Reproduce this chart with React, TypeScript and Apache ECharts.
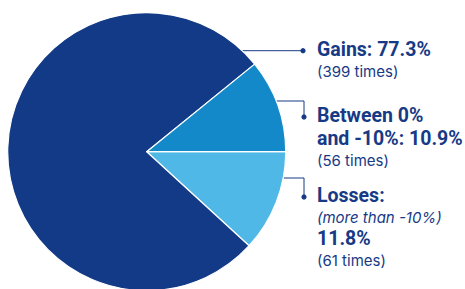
import React, { useEffect, useRef } from "react";
import * as echarts from "echarts";

const categories = ["Losses", "Gains", "Between 0% and -10%"];
const counts = [61, 399, 56];
const percents = [11.8, 77.3, 10.9];
const colors = ["#4FB8E7", "#133A87", "#1389CA"];

const NAVY = "#163A85";
const BOLD_FONT = "Roboto, 'Noto Sans', sans-serif";
const REG_FONT = "Inter, 'Noto Sans', sans-serif";

export default function App() {
  const ref = useRef<HTMLDivElement>(null);
  useEffect(() => {
    document.body.style.margin = "0";
    const chart = echarts.init(ref.current!, null, { renderer: "svg" });
    const cx = 146.7;
    const cy = 151.7;
    const r = 139;
    const edgeX = (y: number) => cx + Math.sqrt(r * r - (y - cy) * (y - cy));

    const bold = (text: string, x: number, baseline: number) => ({
      type: "text",
      x,
      y: baseline - 7,
      style: { text, fill: NAVY, font: `700 19.5px ${BOLD_FONT}`, verticalAlign: "middle", align: "left" },
    });
    const reg = (text: string, x: number, baseline: number, italic = false) => ({
      type: "text",
      x,
      y: baseline - 5.3,
      style: {
        text,
        fill: NAVY,
        font: `${italic ? "italic " : ""}400 15px ${REG_FONT}`,
        verticalAlign: "middle",
        align: "left",
      },
    });
    const lineStyle = { stroke: NAVY, lineWidth: 1, fill: null };
    const dot = (x: number, y: number) => ({
      type: "circle",
      shape: { cx: x, cy: y, r: 2.6 },
      style: { fill: NAVY },
    });

    const tx = 317;
    chart.setOption({
      animation: false,
      series: [
        {
          type: "pie",
          center: [cx, cy],
          radius: [0, r],
          startAngle: 0,
          clockwise: true,
          label: { show: false },
          labelLine: { show: false },
          itemStyle: { borderColor: "#ffffff", borderWidth: 1.2 },
          emphasis: { disabled: true },
          data: categories.map((name, i) => ({
            name,
            value: counts[i],
            itemStyle: { color: colors[i] },
          })),
        },
      ],
      graphic: [
        { type: "polyline", shape: { points: [[edgeX(50.7), 50.7], [303, 50.7]] }, style: lineStyle },
        dot(303, 50.7),
        { type: "polyline", shape: { points: [[edgeX(101), 101], [304, 101], [304, 117]] }, style: lineStyle },
        dot(304, 117),
        { type: "polyline", shape: { points: [[edgeX(178), 178], [304, 178], [304, 197]] }, style: lineStyle },
        dot(304, 197),
        bold(`Gains: ${percents[1]}%`, tx, 56.8),
        reg(`(${counts[1]} times)`, tx, 76.8),
        bold("Between 0%", tx, 122.5),
        bold(`and -10%: ${percents[2]}%`, tx, 145.5),
        reg(`(${counts[2]} times)`, tx, 165.5),
        bold("Losses:", tx, 202.5),
        reg("(more than -10%)", tx, 222.8, true),
        bold(`${percents[0]}%`, tx, 245.5),
        reg(`(${counts[0]} times)`, tx, 265.5),
      ],
    });
    return () => chart.dispose();
  }, []);
  return <div ref={ref} style={{ width: 465, height: 289 }} />;
}
